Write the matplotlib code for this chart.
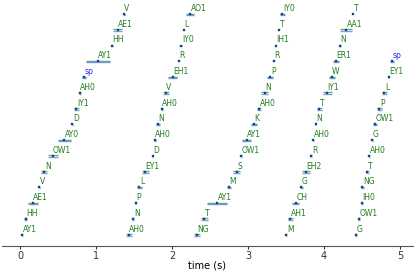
import matplotlib
matplotlib.use("Agg")
import matplotlib.pyplot as plt

phones = ["AY1", "HH", "AE1", "V", "N", "OW1", "AY0", "D", "IY1", "AH0", "sp", "AY1", "HH", "AE1", "V",
          "AH0", "N", "P", "L", "EY1", "D", "AH0", "N", "AH0", "V", "EH1", "R", "IY0", "L", "AO1",
          "NG", "T", "AY1", "M", "S", "OW1", "AY1", "K", "AH0", "N", "P", "R", "IH1", "T", "IY0",
          "M", "AH1", "CH", "G", "EH2", "R", "AH0", "N", "T", "IY1", "W", "ER1", "N", "AA1", "T",
          "G", "OW1", "IH0", "NG", "T", "AH0", "G", "OW1", "P", "L", "EY1", "sp"]

times = [0.03, 0.075, 0.167, 0.254, 0.32, 0.43, 0.583, 0.689, 0.741, 0.789, 0.838, 1.022, 1.21, 1.285, 1.368,
         1.43, 1.491, 1.522, 1.57, 1.645, 1.746, 1.776, 1.816, 1.864, 1.92, 2.009, 2.092, 2.123, 2.158, 2.237,
         2.329, 2.425, 2.596, 2.75, 2.851, 2.912, 2.98, 3.075, 3.145, 3.22, 3.294, 3.342, 3.368, 3.408, 3.452,
         3.504, 3.557, 3.627, 3.697, 3.763, 3.833, 3.86, 3.89, 3.939, 4.039, 4.101, 4.158, 4.206, 4.29, 4.382,
         4.421, 4.461, 4.496, 4.504, 4.57, 4.596, 4.636, 4.671, 4.728, 4.794, 4.851, 4.895]

errs = [0.005, 0.02, 0.064, 0.005, 0.04, 0.066, 0.088, 0.005, 0.03, 0.008, 0.024, 0.158, 0.008, 0.057, 0.012,
        0.037, 0.015, 0.005, 0.037, 0.046, 0.005, 0.015, 0.026, 0.015, 0.037, 0.059, 0.005, 0.005, 0.005, 0.05,
        0.044, 0.042, 0.13, 0.028, 0.044, 0.008, 0.059, 0.04, 0.025, 0.044, 0.04, 0.005, 0.005, 0.005, 0.037,
        0.005, 0.03, 0.046, 0.02, 0.048, 0.005, 0.008, 0.005, 0.035, 0.059, 0.037, 0.035, 0.015, 0.077, 0.005,
        0.015, 0.015, 0.015, 0.02, 0.015, 0.008, 0.005, 0.03, 0.03, 0.037, 0.008, 0.024]

ROWS = 15
rows = [i % ROWS for i in range(len(phones))]

fig = plt.figure(figsize=(4.16, 2.72), dpi=100)
ax = fig.add_axes([2 / 416, 1 - 246 / 272, 411 / 416, 241 / 272])

ax.errorbar(times, [r + 0.03 for r in rows], xerr=errs, fmt="none", ecolor="#2ca02c",
            elinewidth=1.0, alpha=0.75, capsize=0)
ax.errorbar(times, [r - 0.06 for r in rows], xerr=errs, fmt="none", ecolor="#3050ff",
            elinewidth=1.0, alpha=0.6, capsize=0)
ax.plot(times, rows, "s", color="#1010dd", markersize=1.8, markeredgewidth=0.3,
        markeredgecolor="#2a8a2a")

for t, r, p in zip(times, rows, phones):
    col = "#2a2aee" if p == "sp" else "#1f7f1f"
    ax.annotate(p, (t, r), xytext=(0.3, 2.2), textcoords="offset points",
                ha="left", va="baseline", fontsize=5.5, color=col)

ax.set_xlim(-0.237, 5.17)
ax.set_ylim(-0.716, 14.57)
ax.set_xticks([0, 1, 2, 3, 4, 5])
ax.tick_params(axis="x", labelsize=7, length=2.5, width=0.8, pad=1, colors="#333333")
ax.set_yticks([])
for s in ["left", "right", "top"]:
    ax.spines[s].set_visible(False)
ax.spines["bottom"].set_color("#555555")
ax.spines["bottom"].set_linewidth(0.8)
ax.set_xlabel("time (s)", fontsize=7, labelpad=0)

fig.savefig("out.png", dpi=100)
